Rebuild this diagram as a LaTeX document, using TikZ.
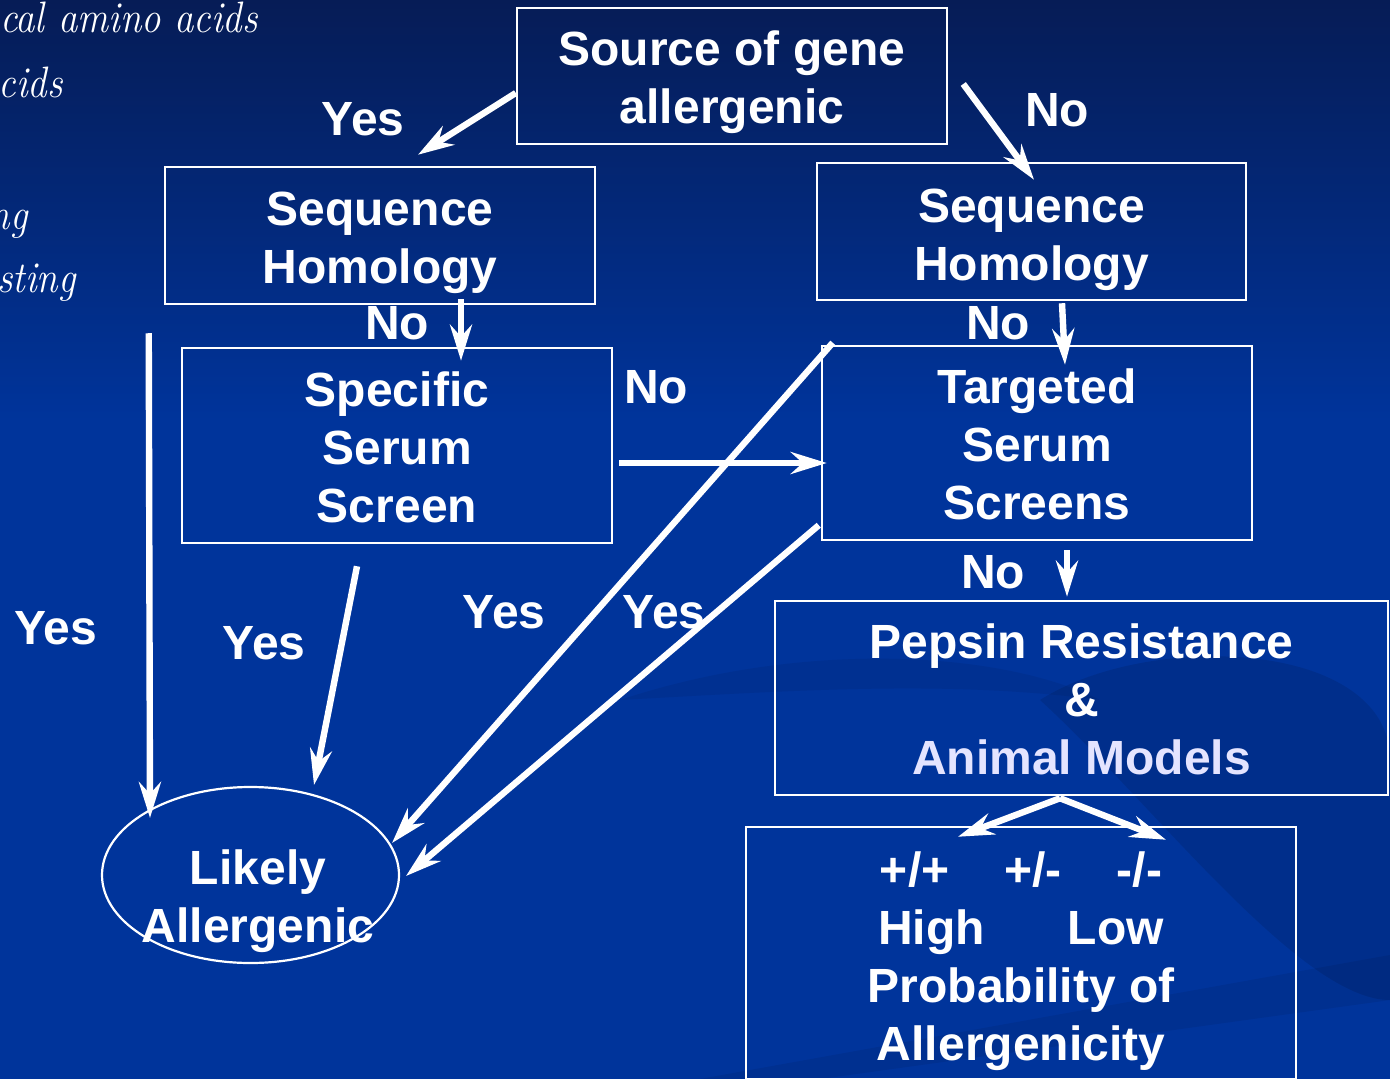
\documentclass[tikz,border=0pt]{standalone}
\usepackage{fontspec}
\newfontfamily\arialb{Liberation Sans}
\usetikzlibrary{arrows.meta,calc,shapes.geometric}
\definecolor{bgtop}{RGB}{6,28,86}
\definecolor{bgmain}{RGB}{0,52,155}
\definecolor{lav}{RGB}{228,228,255}
\tikzset{
  boxnode/.style={draw=white, line width=1.25pt, inner sep=0pt},
  txt/.style={text=white, align=center, inner sep=0pt, font=\arialb\bfseries\fontsize{24}{29}\selectfont},
  lbl/.style={text=white, inner sep=0pt, font=\arialb\bfseries\fontsize{24}{29}\selectfont},
  arr/.style={draw=white, line width=3.2pt, -{Stealth[length=18pt,width=11pt,inset=6pt]}},
  bgtext/.style={text=white, inner sep=0pt, font=\itshape\fontsize{22}{26}\selectfont}
}
\begin{document}
\begin{tikzpicture}[x=0.5pt,y=-0.5pt]
\useasboundingbox (0,0) rectangle (1390,1079);
% background
\shade[top color=bgtop, bottom color=bgmain] (0,0) rectangle (1390,420);
\fill[bgmain] (0,419) rectangle (1390,1079);
\fill[black, opacity=0.10] (1040,700) .. controls (1150,630) and (1390,640) .. (1390,760)
  -- (1390,1000) .. controls (1300,1000) and (1150,800) .. (1040,700) -- cycle;
\fill[black, opacity=0.07] (700,1079) -- (1390,955) -- (1390,1000) -- (820,1079) -- cycle;
\fill[black, opacity=0.06] (620,700) .. controls (800,640) and (1000,650) .. (1100,700)
  .. controls (950,680) and (800,690) .. (620,700) -- cycle;

% background italic text (clipped)
\node[bgtext, anchor=base east] (b1) at (258,33) {\scalebox{0.88}[1]{cal amino acids}};
\node[bgtext, anchor=base east] (b2) at (63,98) {\scalebox{0.88}[1]{cids}};
\node[bgtext, anchor=base east] (b3) at (28,230) {\scalebox{0.88}[1]{ng}};
\node[bgtext, anchor=base east] (b4) at (76,293) {\scalebox{0.88}[1]{sting}};

% boxes
\node[boxnode, minimum width=215pt, minimum height=68pt] (src) at (732,76) {};
\node[boxnode, minimum width=215pt, minimum height=68.5pt] (seqL) at (380,235.5) {};
\node[boxnode, minimum width=214.5pt, minimum height=68.5pt] (seqR) at (1031.5,231.5) {};
\node[boxnode, minimum width=215pt, minimum height=97.5pt] (spec) at (397,445.5) {};
\node[boxnode, minimum width=215pt, minimum height=97pt] (targ) at (1037,443) {};
\node[boxnode, minimum width=306.5pt, minimum height=97pt] (pep) at (1081.5,698) {};
\node[boxnode, minimum width=275pt, minimum height=126pt] (prob) at (1021,953) {};
\node[draw=white, line width=1.1pt, ellipse, minimum width=148.5pt, minimum height=88pt, inner sep=0pt] (ell) at (250.5,875) {};

% box texts
\node[txt] (srct) at ($(src.center)+(0,6)$) {Source of gene\\allergenic};
\node[txt] (seqLt) at ($(seqL.center)+(0,7)$) {Sequence\\Homology};
\node[txt] (seqRt) at ($(seqR.center)+(0,8)$) {Sequence\\Homology};
\node[txt] (spect) at ($(spec.center)+(0,2)$) {Specific\\Serum\\Screen};
\node[txt] (targt) at ($(targ.center)+(0,1.5)$) {Targeted\\Serum\\Screens};
\node[txt] (pept) at ($(pep.center)+(0,1)$) {Pepsin Resistance\\\&\\\textcolor{lav}{Animal Models}};
\node[txt] (probt) at ($(prob.center)+(0,8)$)
  {+/+\hspace{27.5pt}+/-\hspace{27.5pt}-/-\\High\hspace{41.5pt}Low\\Probability of\\Allergenicity};
\node[txt] (ellt) at (258,901) {Likely\\Allergenic};

% labels
\node[lbl] (l1) at (363,119) {Yes};
\node[lbl] (l2) at (1057,110) {No};
\node[lbl] (l3) at (397,323) {No};
\node[lbl] (l4) at (998,323) {No};
\node[lbl] (l5) at (656,387) {No};
\node[lbl] (l6) at (993,572) {No};
\node[lbl] (l7) at (56,628) {Yes};
\node[lbl] (l8) at (264,643) {Yes};
\node[lbl] (l9) at (504,612) {Yes};
\node[lbl] (l10) at (664,612) {Yes};

% connectors
\coordinate (vstart) at ($(seqL.south west)+(-15,28)$);
\draw[arr] ($(src.west)+(0,17)$) -- ($(seqL.north)+(38,-11)$);
\draw[arr] ($(src.east)+(15,8)$) -- ($(seqR.north)+(2.5,18)$);
\draw[arr] ($(seqL.south)+(81,-6)$) -- ($(spec.north)+(64,14)$);
\draw[arr] ($(seqR.south)+(30.5,2)$) -- ($(targ.north)+(28,20)$);
\draw[arr] ($(spec.east)+(6,17.5)$) -- ($(targ.west)+(6,20)$);
\draw[arr] ($(targ.south)+(30,9)$) -- ($(pep.north)+(-14.5,-3)$);
\draw[arr] (vstart) -- ($(ell.center)+(-100.5,-57)$);
\draw[arr] ($(spec.south)+(-40,22)$) -- ($(ell.center)+(63.5,-90)$);
\draw[arr] ($(targ.north west)+(12,-2)$) -- ($(ell.center)+(141.5,-32)$);
\draw[arr] ($(targ.south west)+(-2,-16)$) -- ($(ell.center)+(155.5,1)$);
\draw[arr] ($(pep.south)+(-21.5,2)$) -- ($(prob.north)+(-63,11)$);
\draw[arr] ($(pep.south)+(-21.5,2)$) -- ($(prob.north)+(145,14)$);
\end{tikzpicture}
\end{document}
